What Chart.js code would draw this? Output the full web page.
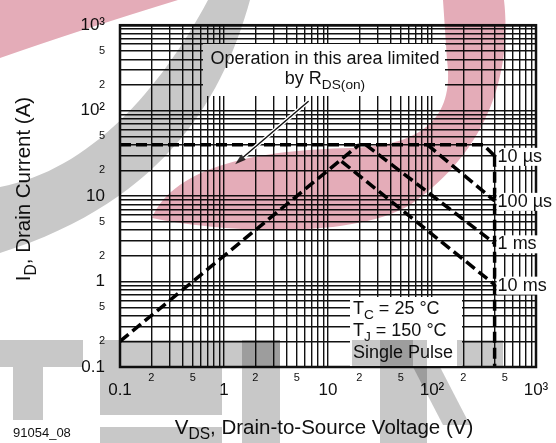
<!DOCTYPE html>
<html>
<head>
<meta charset="utf-8">
<script src="https://cdn.jsdelivr.net/npm/chart.js@4.4.1/dist/chart.umd.min.js"></script>
<style>
  html, body { margin: 0; padding: 0; background: #fff; }
  #wrap { width: 556px; height: 443px; }
</style>
</head>
<body>
<div id="wrap"><canvas id="soa" width="556" height="443"></canvas></div>
<script>
const FONT = "'Liberation Sans', Arial, Helvetica, sans-serif";

// SOA curves: V_DS in volts, I_D in amps
const vdsRds = [0.1, 20];
const idRds = [0.2, 40];
const vds10us = [0.1, 310, 400];
const id10us = [40, 40, 29.6];
const vds100us = [90, 400];
const id100us = [40, 8.8];
const vds1ms = [23, 400];
const id1ms = [40, 2.8];
const vds10ms = [13.5, 400];
const id10ms = [25.5, 0.92];
const vdsMax = [400, 400];
const idMax = [29.6, 0.1];

const curveNames = ['10 µs', '100 µs', '1 ms', '10 ms'];

// log grid + tick labels (same on both axes)
const decades = [0.1, 1, 10, 100];
const gridSteps = [1, 2, 3, 4, 5, 6, 7, 8, 9];
const axisMin = 0.1;
const axisMax = 1000;
const tickValues = [0.1, 0.2, 0.5, 1, 2, 5, 10, 20, 50, 100, 200, 500, 1000];
const tickLabels = ['0.1', '2', '5', '1', '2', '5', '10', '2', '5', '10²', '2', '5', '10³'];
const majorValues = [0.1, 1, 10, 100, 1000];

const gridValues = decades.flatMap(d => gridSteps.map(s => +(d * s).toPrecision(6))).concat(axisMax);

const near = (a, b) => Math.abs(a - b) < b * 1e-6;
const labelFor = v => {
  const i = tickValues.findIndex(t => near(v, t));
  return i < 0 ? '' : tickLabels[i];
};
const isMajor = v => majorValues.some(t => near(v, t));
const pts = (xs, ys) => xs.map((x, i) => ({ x, y: ys[i] }));

const dashed = {
  borderColor: '#000',
  borderWidth: 3.5,
  borderDash: [11, 5],
  pointRadius: 0,
  fill: false,
  tension: 0
};

function rich(ctx, parts, x, y, size, align) {
  const subSize = size * 0.76;
  let w = 0;
  parts.forEach(([t, sub]) => {
    ctx.font = (sub ? subSize : size) + 'px ' + FONT;
    w += ctx.measureText(t).width;
  });
  let cx = align === 'center' ? x - w / 2 : x;
  ctx.textAlign = 'left';
  ctx.textBaseline = 'alphabetic';
  parts.forEach(([t, sub]) => {
    ctx.font = (sub ? subSize : size) + 'px ' + FONT;
    ctx.fillText(t, cx, sub ? y + size * 0.28 : y);
    cx += ctx.measureText(t).width;
  });
}

// background logo of the scanned sheet, blended over the finished chart
function watermark(ctx) {
  ctx.save();
  ctx.globalCompositeOperation = 'multiply';
  ctx.fillStyle = 'rgb(228,172,184)';
  ctx.beginPath();
  ctx.moveTo(0, 0);
  ctx.lineTo(178, 0);
  ctx.quadraticCurveTo(80, 30, 0, 58);
  ctx.closePath();
  ctx.fill();

  ctx.beginPath();
  ctx.moveTo(443, 0);
  ctx.lineTo(504, 0);
  ctx.bezierCurveTo(512, 70, 490, 150, 410, 205);
  ctx.bezierCurveTo(350, 240, 220, 232, 152, 218);
  ctx.bezierCurveTo(175, 165, 260, 150, 350, 148);
  ctx.bezierCurveTo(420, 146, 455, 120, 447, 60);
  ctx.closePath();
  ctx.fill();

  ctx.fillStyle = 'rgb(200,200,200)';
  ctx.beginPath();
  ctx.moveTo(208, 0);
  ctx.lineTo(250, 0);
  ctx.bezierCurveTo(225, 90, 170, 200, 0, 253);
  ctx.lineTo(0, 187);
  ctx.bezierCurveTo(90, 170, 160, 90, 208, 0);
  ctx.fill();

  [[0, 340, 83, 27], [13, 367, 30, 53], [100, 340, 180, 27], [100, 367, 122, 48],
   [100, 427, 122, 16], [242, 340, 38, 103], [352, 340, 61, 27], [380, 340, 47, 103],
   [457, 340, 46, 27]].forEach(r => ctx.fillRect(...r));
  ctx.beginPath();
  ctx.moveTo(413, 367); ctx.lineTo(440, 367); ctx.lineTo(470, 425); ctx.lineTo(443, 425);
  ctx.fill();
  ctx.restore();
}

const decor = {
  id: 'decor',
  afterDatasetsDraw(chart) {
    const { ctx, chartArea: a, scales: { x, y } } = chart;
    ctx.save();
    ctx.strokeStyle = '#111';
    ctx.lineWidth = 2.5;
    ctx.strokeRect(a.left, a.top, a.right - a.left, a.bottom - a.top);

    // R_DS(on) note
    ctx.fillStyle = '#fff';
    ctx.fillRect(203, 44, 242, 52);
    ctx.fillStyle = '#111';
    rich(ctx, [['Operation in this area limited']], 325, 63.5, 18, 'center');
    rich(ctx, [['by R'], ['DS(on)', true]], 325, 83.5, 18, 'center');

    // arrow into the limited region
    const x0 = x.getPixelForValue(6.45), y0 = y.getPixelForValue(128);
    const x1 = x.getPixelForValue(1.28), y1 = y.getPixelForValue(23.6);
    const ang = Math.atan2(y1 - y0, x1 - x0);
    const hx = x1 - 11 * Math.cos(ang), hy = y1 - 11 * Math.sin(ang);
    ctx.lineCap = 'round';
    ctx.strokeStyle = '#fff';
    ctx.lineWidth = 4;
    ctx.beginPath(); ctx.moveTo(x0, y0); ctx.lineTo(hx, hy); ctx.stroke();
    ctx.strokeStyle = '#111';
    ctx.lineWidth = 1.4;
    ctx.beginPath(); ctx.moveTo(x0, y0); ctx.lineTo(hx, hy); ctx.stroke();
    ctx.fillStyle = '#333';
    ctx.beginPath();
    ctx.moveTo(x1, y1);
    ctx.lineTo(hx + 3.5 * Math.sin(ang), hy - 3.5 * Math.cos(ang));
    ctx.lineTo(hx - 3.5 * Math.sin(ang), hy + 3.5 * Math.cos(ang));
    ctx.closePath();
    ctx.fill();

    // pulse-width labels at the curve ends
    const ends = [id10us, id100us, id1ms, id10ms].map(a => a[a.length - 1]);
    ctx.font = '18px ' + FONT;
    curveNames.forEach((name, i) => {
      const px = x.getPixelForValue(vdsMax[0]) + 2;
      const py = y.getPixelForValue(ends[i]) + 1;
      const w = ctx.measureText(name).width;
      ctx.fillStyle = '#fff';
      ctx.fillRect(px, py - 9, w + 4, 18);
      ctx.fillStyle = '#111';
      ctx.textAlign = 'left';
      ctx.textBaseline = 'middle';
      ctx.fillText(name, px + 1, py);
    });

    // conditions box
    ctx.fillStyle = '#fff';
    ctx.fillRect(350, 297, 112, a.bottom - 297 - 1);
    ctx.fillStyle = '#111';
    rich(ctx, [['T'], ['C', true], [' = 25 °C']], 353, 313.5, 18);
    rich(ctx, [['T'], ['J', true], [' = 150 °C']], 353, 335.5, 18);
    rich(ctx, [['Single Pulse']], 353, 357.5, 18);
    ctx.restore();
  },
  afterDraw(chart) {
    const { ctx } = chart;
    ctx.save();
    ctx.fillStyle = '#111';
    rich(ctx, [['V'], ['DS', true], [', Drain-to-Source Voltage (V)']], 324, 433.5, 20.5, 'center');
    ctx.translate(30, 189);
    ctx.rotate(-Math.PI / 2);
    rich(ctx, [['I'], ['D', true], [', Drain Current (A)']], 0, 0, 20.5, 'center');
    ctx.setTransform(1, 0, 0, 1, 0, 0);
    ctx.font = '13px ' + FONT;
    ctx.textAlign = 'left';
    ctx.textBaseline = 'alphabetic';
    ctx.fillText('91054_08', 13, 437);
    ctx.restore();
    watermark(ctx);
  }
};

const gridOpts = { color: '#111', lineWidth: 1.4, drawTicks: false };

new Chart(document.getElementById('soa'), {
  type: 'line',
  data: {
    datasets: [
      { ...dashed, label: 'RDS(on)', data: pts(vdsRds, idRds) },
      { ...dashed, label: curveNames[0], data: pts(vds10us, id10us) },
      { ...dashed, label: curveNames[1], data: pts(vds100us, id100us) },
      { ...dashed, label: curveNames[2], data: pts(vds1ms, id1ms) },
      { ...dashed, label: curveNames[3], data: pts(vds10ms, id10ms) },
      { ...dashed, label: 'VDS max', data: pts(vdsMax, idMax) }
    ]
  },
  options: {
    responsive: false,
    animation: false,
    devicePixelRatio: 1,
    layout: { padding: { top: 13, right: 20, left: 0, bottom: 0 } },
    plugins: { legend: { display: false }, tooltip: { enabled: false } },
    scales: {
      x: {
        type: 'logarithmic',
        min: axisMin,
        max: axisMax,
        afterBuildTicks: s => { s.ticks = gridValues.map(v => ({ value: v })); },
        afterFit: s => { s.height = 76; },
        grid: gridOpts,
        border: { display: false },
        ticks: {
          autoSkip: false,
          maxRotation: 0,
          padding: 4,
          color: '#111',
          callback: v => labelFor(v),
          font: c => isMajor(c.tick.value)
            ? { family: FONT, size: 17, lineHeight: 2.27 }
            : { family: FONT, size: 11, lineHeight: 1.2 }
        }
      },
      y: {
        type: 'logarithmic',
        min: axisMin,
        max: axisMax,
        afterBuildTicks: s => { s.ticks = gridValues.map(v => ({ value: v })); },
        afterFit: s => { s.width = 120; },
        grid: gridOpts,
        border: { display: false },
        ticks: {
          autoSkip: false,
          padding: 15,
          color: '#111',
          callback: v => labelFor(v),
          font: c => isMajor(c.tick.value)
            ? { family: FONT, size: 17 }
            : { family: FONT, size: 11 }
        }
      }
    }
  },
  plugins: [decor]
});
</script>
</body>
</html>
